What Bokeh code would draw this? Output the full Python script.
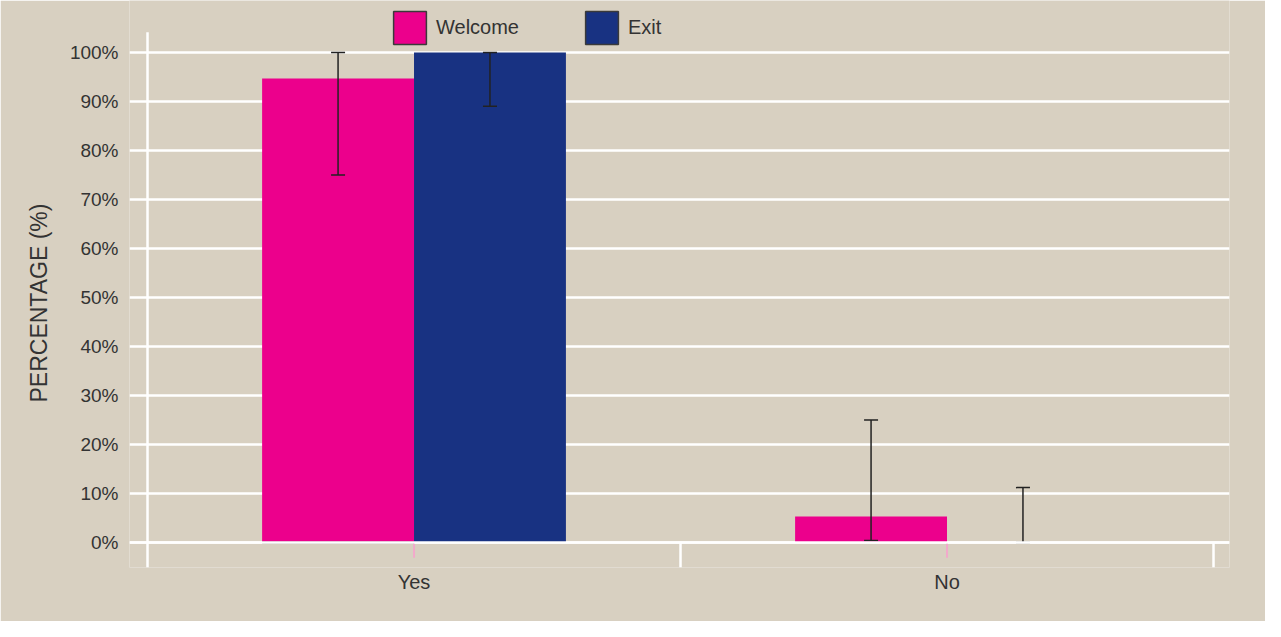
from bokeh.plotting import figure
from bokeh.models import (ColumnDataSource, Whisker, TeeHead, FixedTicker, Range1d,
                          Legend, LegendItem, Span, Title)
from bokeh.embed import file_html
from bokeh.resources import INLINE

# ---- data ----
categories = ["Yes", "No"]
welcome = [94.7, 5.3]
exit_ = [100.0, 0.0]
welcome_lo = [75.0, 0.4]
welcome_hi = [100.0, 25.0]
exit_lo = [89.0, 0.0]
exit_hi = [100.0, 11.2]
y_ticks = [0, 10, 20, 30, 40, 50, 60, 70, 80, 90, 100]

# ---- styles ----
BG = "#d8d0c1"
PINK = "#ec008c"
NAVY = "#183282"
TXT = "#333333"
FONT = "Liberation Sans"
BAR_W = 0.285

n = len(categories)
centers = [i + 0.5 for i in range(n)]

p = figure(width=1265, height=621, output_backend="svg", toolbar_location=None,
           x_range=Range1d(-0.0338, n + 0.030), y_range=Range1d(-5.1, 110.6),
           min_border_left=129, min_border_right=36, min_border_top=0, min_border_bottom=54)
p.background_fill_color = BG
p.border_fill_color = BG
p.outline_line_color = None

# grid
p.xgrid.visible = False
p.ygrid.grid_line_color = "white"
p.ygrid.grid_line_width = 2.5
p.yaxis.ticker = FixedTicker(ticks=y_ticks)

# axis + separators
p.segment(x0=[0], y0=[-5.1], x1=[0], y1=[104.1], line_color="white", line_width=2.5)
p.segment(x0=list(range(1, n + 1)), y0=[-5.1] * n, x1=list(range(1, n + 1)), y1=[0] * n,
          line_color="white", line_width=2.5)
# pink category ticks
p.segment(x0=centers, y0=[-3.1] * n, x1=centers, y1=[0] * n, line_color="#f2a9cb", line_width=2)

# bars
wx = [c - BAR_W / 2 for c in centers]
ex = [c + BAR_W / 2 for c in centers]
src_w = ColumnDataSource(dict(x=wx, top=welcome, lo=welcome_lo, hi=welcome_hi))
src_e = ColumnDataSource(dict(x=ex, top=exit_, lo=exit_lo, hi=exit_hi))
p.vbar(x="x", top="top", bottom=0, width=BAR_W, source=src_w, fill_color=PINK, line_color=None)
p.vbar(x="x", top="top", bottom=0, width=BAR_W, source=src_e, fill_color=NAVY, line_color=None)

# legend proxies: zero-height bars on the baseline, hidden under the white zero line
lw = p.vbar(x=wx[:1], top=[0], bottom=[0], width=BAR_W, fill_color=PINK, line_color="#3a3a3a", line_width=1.5)
le = p.vbar(x=wx[:1], top=[0], bottom=[0], width=BAR_W, fill_color=NAVY, line_color="#3a3a3a", line_width=1.5)

for src in (src_w, src_e):
    w = Whisker(source=src, base="x", upper="hi", lower="lo", line_color="#222222", line_width=1.5,
                level="annotation",
                upper_head=TeeHead(size=14, line_color="#222222", line_width=1.5),
                lower_head=TeeHead(size=14, line_color="#222222", line_width=1.5))
    p.add_layout(w)

p.add_layout(Span(location=0, dimension="width", line_color="white", line_width=2.5,
                  level="annotation"))

legend = Legend(items=[LegendItem(label="Welcome", renderers=[lw]),
                       LegendItem(label="Exit", renderers=[le])],
                orientation="horizontal", location=(260, 519),
                glyph_width=41, glyph_height=41, label_standoff=6, spacing=62,
                padding=0, margin=0, border_line_color=None, background_fill_alpha=0,
                label_text_font=FONT, label_text_font_size="20px", label_text_color=TXT)
p.add_layout(legend)

# axes
p.yaxis.axis_line_color = None
p.yaxis.major_tick_line_color = None
p.yaxis.minor_tick_line_color = None
p.yaxis.major_label_standoff = 5
p.yaxis.major_label_overrides = {v: f"{v}%" for v in y_ticks}
p.yaxis.major_label_text_font = FONT
p.yaxis.major_label_text_font_size = "19px"
p.yaxis.major_label_text_color = TXT

p.add_layout(Title(text="PERCENTAGE (%)", align="left", offset=165, standoff=29,
                   text_font=FONT, text_font_size="23px", text_font_style="normal",
                   text_color=TXT), "left")

p.xaxis.ticker = FixedTicker(ticks=centers)
p.xaxis.major_label_overrides = {c: lab for c, lab in zip(centers, categories)}
p.xaxis.axis_line_color = None
p.xaxis.major_tick_line_color = None
p.xaxis.minor_tick_line_color = None
p.xaxis.major_label_standoff = -3
p.xaxis.major_label_text_font = FONT
p.xaxis.major_label_text_font_size = "20px"
p.xaxis.major_label_text_color = TXT

open("out.html", "w").write(file_html(p, INLINE))
